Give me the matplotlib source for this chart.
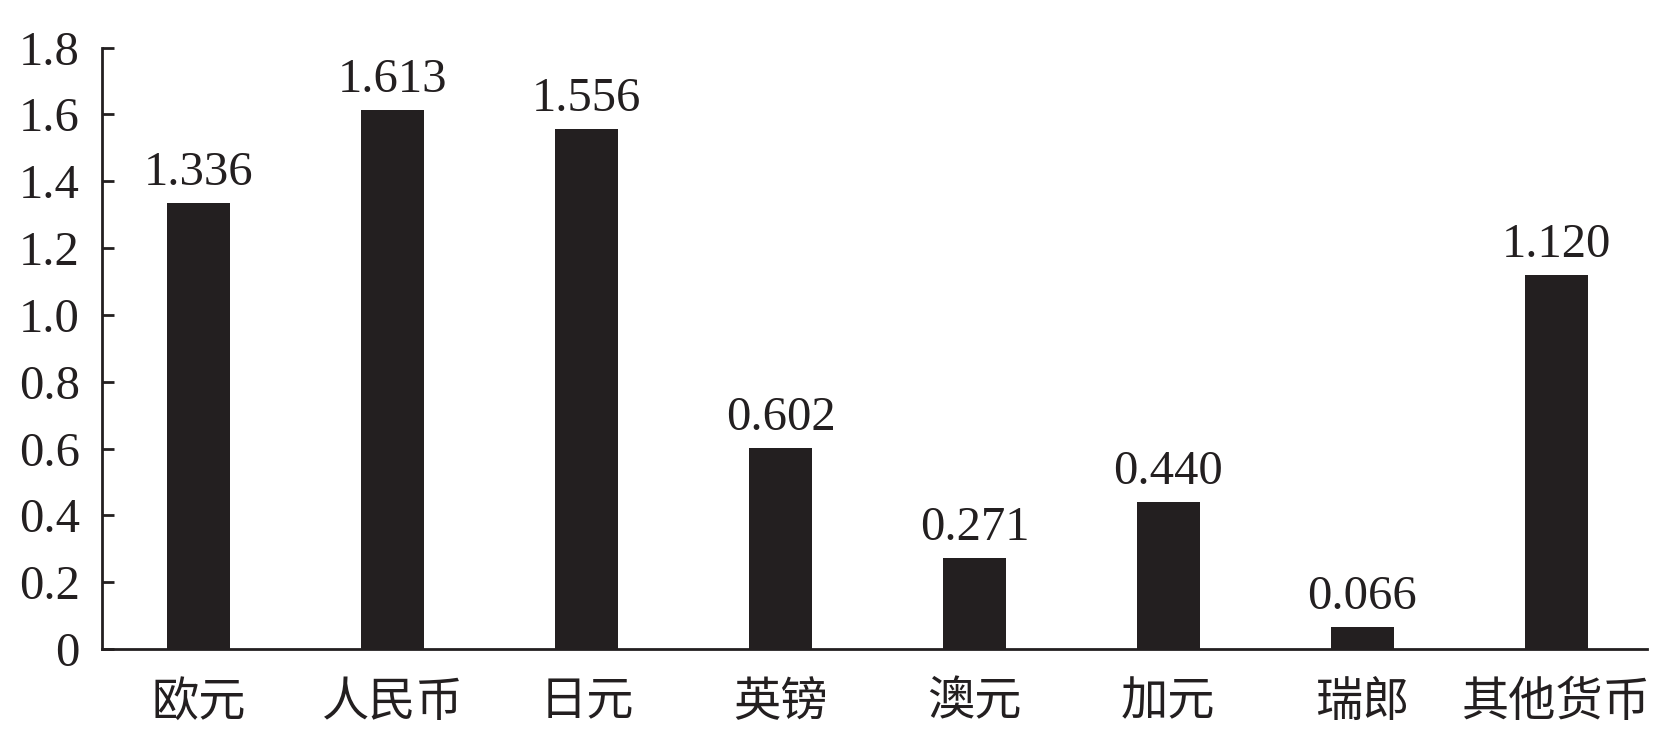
import matplotlib
matplotlib.use("Agg")
import matplotlib.pyplot as plt

categories = ["欧元", "人民币", "日元", "英镑", "澳元", "加元", "瑞郎", "其他货币"]
values = [1.336, 1.613, 1.556, 0.602, 0.271, 0.440, 0.066, 1.120]
value_labels = ["1.336", "1.613", "1.556", "0.602", "0.271", "0.440", "0.066", "1.120"]
yticks = [0, 0.2, 0.4, 0.6, 0.8, 1.0, 1.2, 1.4, 1.6, 1.8]
ytick_labels = ["0", "0.2", "0.4", "0.6", "0.8", "1.0", "1.2", "1.4", "1.6", "1.8"]

INK = "#231f20"
SERIF = ["Liberation Serif", "DejaVu Serif"]
CJK = ["Noto Sans CJK SC", "DejaVu Sans"]

fig = plt.figure(figsize=(16.74, 7.43), dpi=100)
ax = fig.add_axes([0.0609, 0.1265, 0.984 - 0.0609, 0.936 - 0.1265])

x = list(range(len(categories)))
ax.bar(x, values, width=0.325, color=INK, zorder=2)

for xi, v, lab in zip(x, values, value_labels):
    ax.annotate(lab, (xi, v), xytext=(0, 13), textcoords="offset points",
                ha="center", va="baseline", fontsize=35, family=SERIF, color=INK)

ax.set_xlim(-0.5, 7.47)
ax.set_ylim(0, 1.8)
ax.set_yticks(yticks)
ax.set_yticklabels(ytick_labels, family=SERIF, fontsize=35, color=INK)
ax.set_xticks(x)
ax.set_xticklabels(categories, family=CJK, fontsize=34, color=INK, fontweight="light")

ax.tick_params(axis="y", direction="in", length=8.5, width=2, color=INK, pad=16)
ax.tick_params(axis="x", length=0, pad=21)

for s in ["top", "right"]:
    ax.spines[s].set_visible(False)
for s in ["left", "bottom"]:
    ax.spines[s].set_linewidth(2)
    ax.spines[s].set_color(INK)

fig.savefig("out.png", dpi=100)
